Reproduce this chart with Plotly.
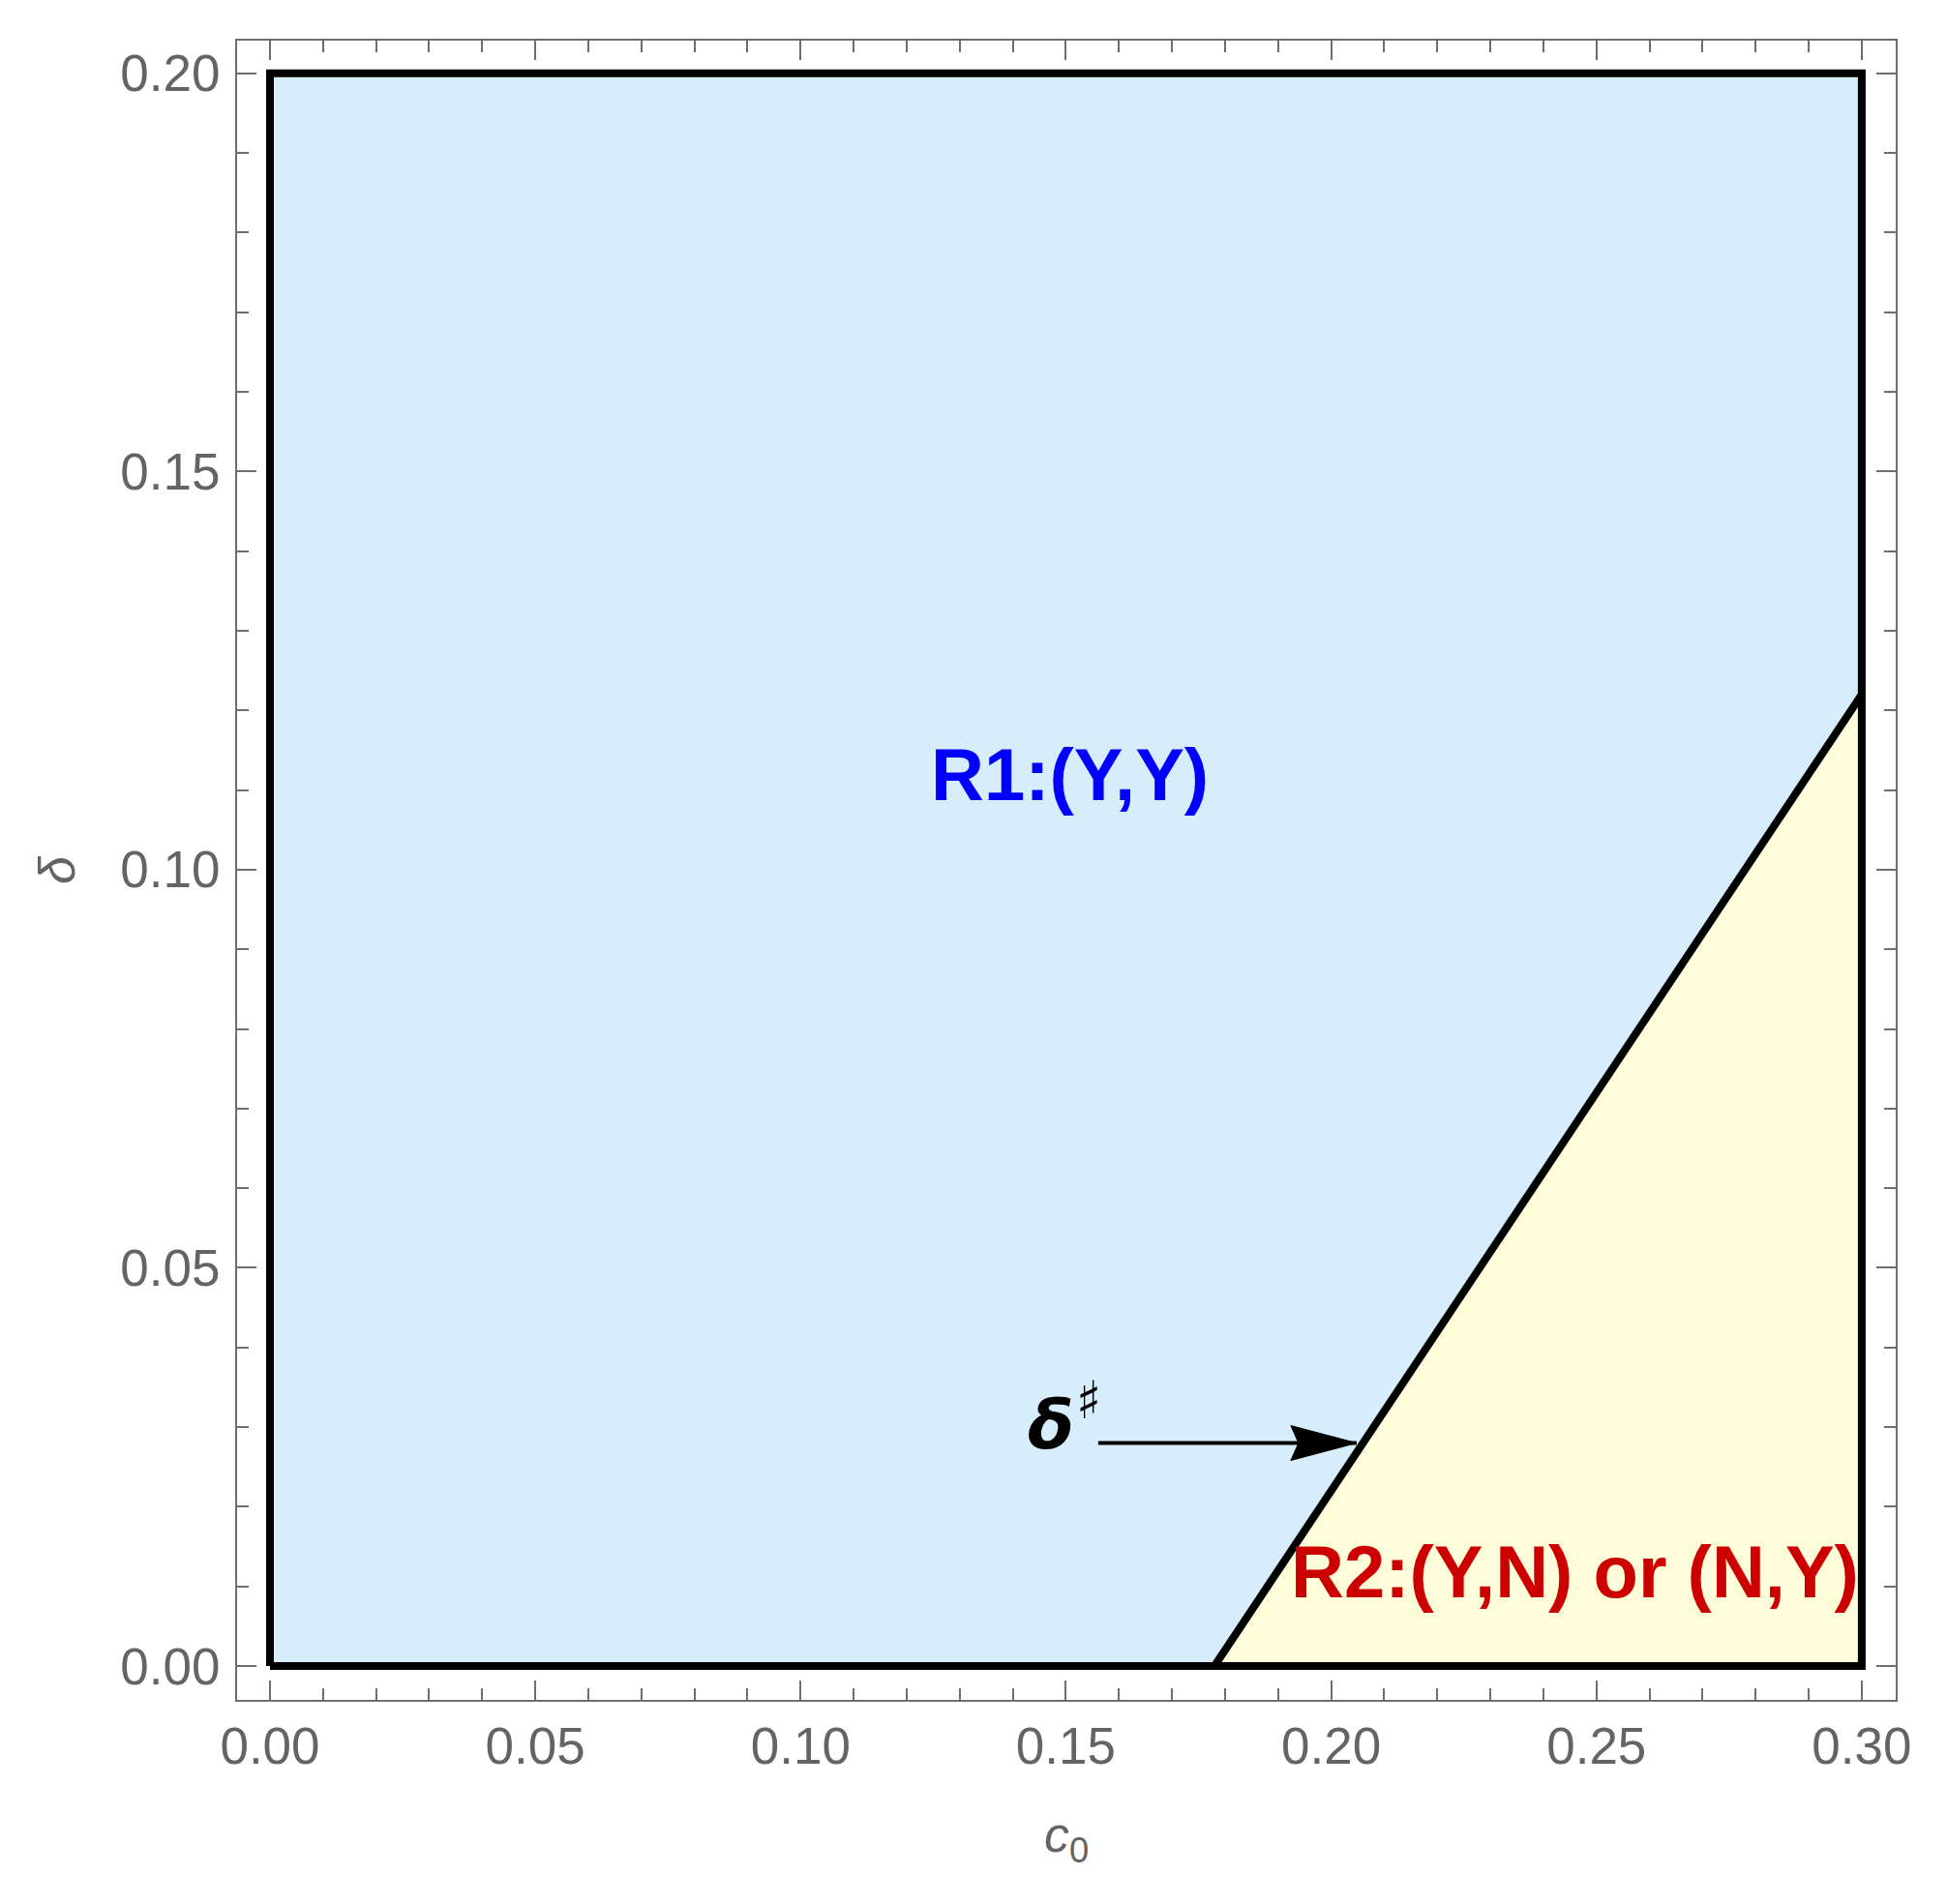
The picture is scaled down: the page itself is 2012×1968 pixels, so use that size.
import plotly.graph_objects as go

# ---- data ----
c0_min, c0_max = 0.0, 0.30
delta_min, delta_max = 0.0, 0.20
boundary_c0 = [0.178, 0.300]          # delta# boundary line
boundary_delta = [0.000, 0.122]
x_ticks = [0.00, 0.05, 0.10, 0.15, 0.20, 0.25, 0.30]
x_tick_labels = ["0.00", "0.05", "0.10", "0.15", "0.20", "0.25", "0.30"]
y_ticks = [0.00, 0.05, 0.10, 0.15, 0.20]
y_tick_labels = ["0.00", "0.05", "0.10", "0.15", "0.20"]
r1_label = ("R1:(Y,Y)", 0.1508, 0.1120)
r2_label = ("R2:(Y,N) or (N,Y)", 0.2459, 0.0119)
delta_label = ("δ", 0.1471, 0.0302)
sharp_label = ("♯", 0.1543, 0.0334)
arrow_tail = (0.1561, 0.0280)
arrow_tip = (0.2048, 0.0280)

BLUE_FILL = "#D7EDFC"
YELLOW_FILL = "#FFFDDA"
AXIS_GRAY = "#6E6E6E"
FONT = "Liberation Sans, Arial, sans-serif"

fig = go.Figure()

# R1 region (light blue)
fig.add_trace(go.Scatter(
    x=[c0_min, boundary_c0[0], boundary_c0[1], c0_max, c0_min, c0_min],
    y=[delta_min, boundary_delta[0], boundary_delta[1], delta_max, delta_max, delta_min],
    fill="toself", fillcolor=BLUE_FILL, mode="none", hoverinfo="skip", showlegend=False))
# R2 region (light yellow)
fig.add_trace(go.Scatter(
    x=[boundary_c0[0], c0_max, boundary_c0[1], boundary_c0[0]],
    y=[boundary_delta[0], delta_min, boundary_delta[1], boundary_delta[0]],
    fill="toself", fillcolor=YELLOW_FILL, mode="none", hoverinfo="skip", showlegend=False))
# outer black rectangle
fig.add_trace(go.Scatter(
    x=[c0_min, c0_max, c0_max, c0_min, c0_min],
    y=[delta_min, delta_min, delta_max, delta_max, delta_min],
    mode="lines", line=dict(color="black", width=8), hoverinfo="skip", showlegend=False))
# boundary line
fig.add_trace(go.Scatter(
    x=boundary_c0, y=boundary_delta,
    mode="lines", line=dict(color="black", width=8), hoverinfo="skip", showlegend=False))
# arrow shaft
fig.add_trace(go.Scatter(
    x=[arrow_tail[0], arrow_tip[0]], y=[arrow_tail[1], arrow_tip[1]],
    mode="lines", line=dict(color="black", width=4), hoverinfo="skip", showlegend=False))
# arrow head (pixel-sized, anchored at tip)
fig.add_shape(type="path", xref="x", yref="y",
              xsizemode="pixel", ysizemode="pixel",
              xanchor=arrow_tip[0], yanchor=arrow_tip[1],
              path="M0,0 L-68,18 L-60,0 L-68,-18 Z",
              fillcolor="black", line=dict(color="black", width=1))

fig.add_annotation(x=r1_label[1], y=r1_label[2], text="<b>" + r1_label[0] + "</b>",
                   showarrow=False, font=dict(family=FONT, size=76, color="#0000FF"))
fig.add_annotation(x=r2_label[1], y=r2_label[2], text="<b>" + r2_label[0] + "</b>",
                   showarrow=False, font=dict(family=FONT, size=76, color="#CC0000"))
fig.add_annotation(x=delta_label[1], y=delta_label[2], text="<b><i>" + delta_label[0] + "</i></b>",
                   showarrow=False, font=dict(family="DejaVu Sans, sans-serif", size=70, color="black"))
fig.add_annotation(x=sharp_label[1], y=sharp_label[2], text="<b>" + sharp_label[0] + "</b>",
                   showarrow=False, font=dict(family="DejaVu Sans, sans-serif",
                                              size=54, color="black"))

axis_common = dict(
    showline=True, linecolor=AXIS_GRAY, linewidth=2, mirror="ticks",
    ticks="inside", ticklen=20, tickwidth=2, tickcolor=AXIS_GRAY,
    showgrid=False, zeroline=False,
    tickfont=dict(family=FONT, size=53, color="#646464"),
    minor=dict(ticks="inside", ticklen=12, tickwidth=2, tickcolor=AXIS_GRAY, dtick=0.01, showgrid=False),
)

fig.update_xaxes(range=[-0.0062, 0.3064], tickvals=x_ticks, ticktext=x_tick_labels,
                 ticklabelstandoff=0,
                 title=dict(text="<i>c</i><sub>0</sub>", standoff=45,
                            font=dict(family=FONT, size=52, color="#646464")),
                 **axis_common)
fig.update_yaxes(range=[-0.00425, 0.2041], tickvals=y_ticks, ticktext=y_tick_labels,
                 ticklabelstandoff=5,
                 title=dict(text="<i>δ</i>", standoff=30,
                            font=dict(family=FONT, size=52, color="#646464")),
                 **axis_common)

fig.update_layout(
    width=2012, height=1968,
    margin=dict(l=237, r=61, t=34, b=219),
    plot_bgcolor="white", paper_bgcolor="white",
    showlegend=False,
)

fig.write_html("out.html")
